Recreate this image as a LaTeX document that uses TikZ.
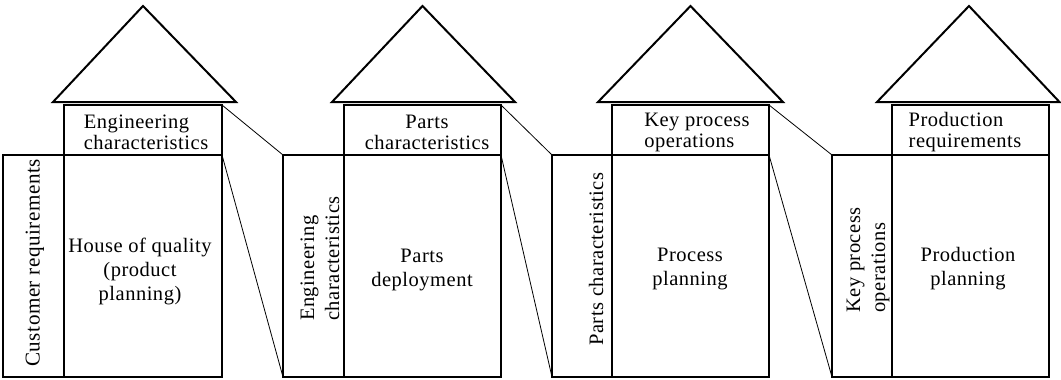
\documentclass[tikz,border=0pt]{standalone}
\usepackage{fontspec}
\setmainfont{Liberation Serif}[LetterSpace=2.5]
\begin{document}
\begin{tikzpicture}[x=1pt,y=-1pt,
  box/.style={draw, line width=2pt, inner sep=0pt, outer sep=0pt},
  roof/.style={draw, line width=2pt, line join=miter},
  link/.style={line width=0.8pt},
  htxt/.style={font=\fontsize{20.5}{21}\selectfont, inner sep=0pt},
  mtxt/.style={font=\fontsize{20.5}{24}\selectfont, inner sep=0pt, align=center},
  vtxt/.style={font=\fontsize{20.5}{25}\selectfont, inner sep=0pt, rotate=90, align=left}
]
\useasboundingbox (0,0) rectangle (1061,380);

% ---------- house 1
\node[box, minimum width=61pt, minimum height=222pt] (l1) at (33.5,266) {};
\node[box, minimum width=158pt, minimum height=222pt] (m1) at (143,266) {};
\node[box, minimum width=158pt, minimum height=50pt] (e1) at (143,130) {};
\coordinate (r1a) at (53,102); \coordinate (r1b) at (143,6); \coordinate (r1c) at (236,102);
\draw[roof] (r1a) -- (r1b) -- (r1c) -- cycle;
\node[htxt, align=left] (t1) at (146,132) {Engineering\\characteristics};
\node[mtxt] (p1) at (140,271) {House of quality\\(product\\planning)};
\node[vtxt, anchor=center, font=\fontsize{21.1}{25}\selectfont] (v1) at (35,263) {Customer requirements};

% ---------- house 2
\node[box, minimum width=61pt, minimum height=222pt] (l2) at (313.5,266) {};
\node[box, minimum width=157pt, minimum height=222pt] (m2) at (422.5,266) {};
\node[box, minimum width=157pt, minimum height=50pt] (e2) at (422.5,130) {};
\coordinate (r2a) at (332,102); \coordinate (r2b) at (422.5,6); \coordinate (r2c) at (515,102);
\draw[roof] (r2a) -- (r2b) -- (r2c) -- cycle;
\node[htxt, align=center] (t2) at (427,132) {Parts\\characteristics};
\node[mtxt] (p2) at (422,270) {Parts\\deployment};
\node[vtxt, anchor=west] (v2) at (320,321) {Engineering\\characteristics};

% ---------- house 3
\node[box, minimum width=60pt, minimum height=222pt] (l3) at (582,266) {};
\node[box, minimum width=157pt, minimum height=222pt] (m3) at (690.5,266) {};
\node[box, minimum width=157pt, minimum height=50pt] (e3) at (690.5,130) {};
\coordinate (r3a) at (598,102); \coordinate (r3b) at (690.5,6); \coordinate (r3c) at (783,102);
\draw[roof] (r3a) -- (r3b) -- (r3c) -- cycle;
\node[htxt, align=left] (t3) at (697,132) {Key process\\operations};
\node[mtxt] (p3) at (690,269) {Process\\planning};
\node[vtxt, anchor=center] (v3) at (596,259) {Parts characteristics};

% ---------- house 4
\node[box, minimum width=60pt, minimum height=222pt] (l4) at (862,266) {};
\node[box, minimum width=157pt, minimum height=222pt] (m4) at (970.5,266) {};
\node[box, minimum width=157pt, minimum height=50pt] (e4) at (970.5,130) {};
\coordinate (r4a) at (877,102); \coordinate (r4b) at (969,6); \coordinate (r4c) at (1059.5,102);
\draw[roof] (r4a) -- (r4b) -- (r4c) -- cycle;
\node[htxt, align=left] (t4) at (965,132) {Production\\requirements};
\node[mtxt] (p4) at (968,269) {Production\\planning};
\node[vtxt, anchor=west] (v4) at (868,313) {Key process\\operations};

% ---------- links
\draw[link] (e1.north east) -- (l2.north west);
\draw[link] (m1.north east) -- (l2.south west);
\draw[link] (e2.north east) -- (l3.north west);
\draw[link] (m2.north east) -- (l3.south west);
\draw[link] (e3.north east) -- (l4.north west);
\draw[link] (m3.north east) -- (l4.south west);
\end{tikzpicture}
\end{document}
